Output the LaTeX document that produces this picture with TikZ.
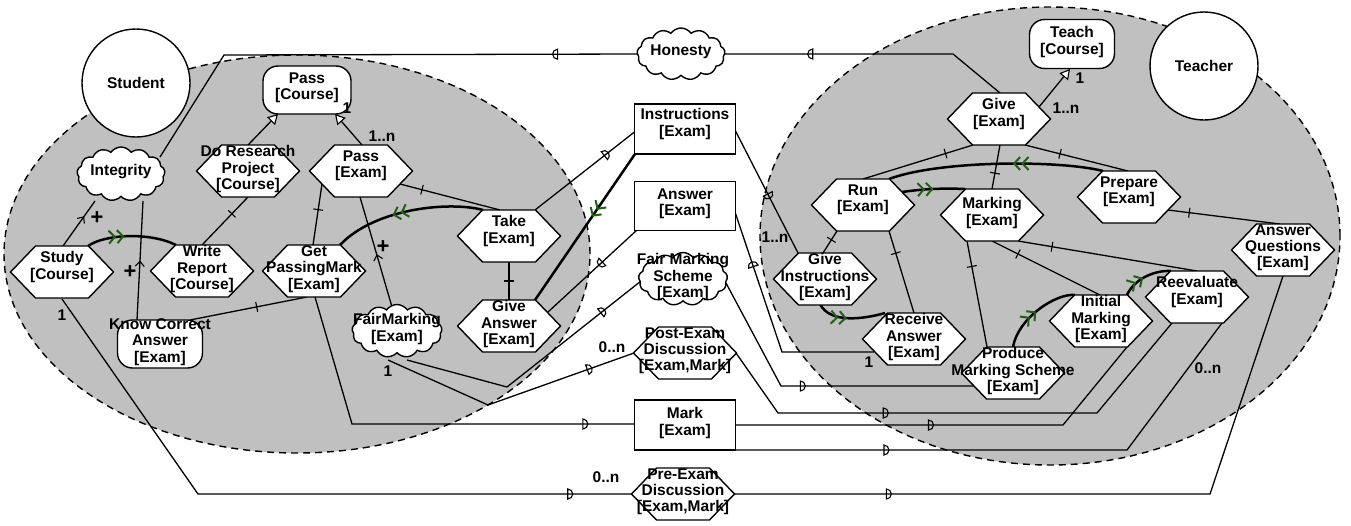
\documentclass[tikz,border=0pt]{standalone}
\usepackage{fontspec}
\setmainfont{Liberation Sans}
\usetikzlibrary{shapes.geometric,shapes.symbols,arrows.meta,decorations.markings}
\definecolor{bgray}{RGB}{192,192,192}
\definecolor{igreen}{RGB}{34,96,20}
\pgfdeclarelayer{bgl}
\pgfdeclarelayer{lnk}
\pgfsetlayers{bgl,lnk,main}
\newcommand\lblfont{\fontsize{15.5}{16.2}\selectfont\bfseries}
\newcommand\hexnode[4][]{%
  \node[hexbase] (#2) at (#3) {};
  \draw[nodeline] (#2.west) -- ([xshift=25pt]#2.north west) -- ([xshift=-25pt]#2.north east) -- (#2.east) -- ([xshift=-25pt]#2.south east) -- ([xshift=25pt]#2.south west) -- cycle;
  \node[lbl,#1] (#2t) at (#2.center) {#4};}
\tikzset{
 hexbase/.style={rectangle, minimum width=103pt, minimum height=52pt, inner sep=0pt, outer sep=0pt},
 nodeline/.style={draw, fill=white, line width=1.4pt, line join=miter},
 lbl/.style={align=center, inner sep=0pt, font=\lblfont, yshift=2pt},
 up/.style={yshift=3pt},
 goal/.style={rectangle, rounded corners=15pt, draw, fill=white, line width=1.4pt, minimum width=88pt, minimum height=48pt, inner sep=0pt},
 soft/.style={cloud, cloud puffs=13, cloud puff arc=110, cloud ignores aspect, draw, fill=white, line width=1.4pt, minimum width=88pt, minimum height=54pt, inner sep=0pt},
 res/.style={rectangle, draw, fill=white, line width=1.4pt, minimum width=101pt, minimum height=50pt, inner sep=0pt},
 actor/.style={circle, draw, fill=white, line width=1.4pt, minimum size=108pt, inner sep=0pt, font=\lblfont},
 bound/.style={ellipse, draw, fill=bgray, dash pattern=on 7pt off 5pt, line width=1.4pt, inner sep=0pt},
 link/.style={line width=1.3pt},
 thk/.style={line width=2.5pt},
 tickat/.style={postaction={decorate, decoration={markings, mark=at position #1 with {\draw[line width=1.1pt] (0pt,-5pt) -- (0pt,5pt);}}}},
 contribat/.style={postaction={decorate, decoration={markings, mark=at position #1 with {\arrow{Straight Barb[length=5pt,width=9pt,line width=1.1pt]}}}}},
 greenat/.style={postaction={decorate, decoration={markings, mark=at position #1 with {\arrow{Straight Barb[color=igreen,length=6pt,width=13pt,line width=2pt] Straight Barb[color=igreen,length=6pt,width=13pt,line width=2pt]}}}}},
 dmk/.style={sloped, allow upside down, semicircle, draw, line width=1.1pt, inner sep=0pt, outer sep=0pt, minimum width=10pt, minimum height=5pt, anchor=chord center},
 dfwd/.style={dmk, pos=#1, rotate=-90},
 dbwd/.style={dmk, pos=#1, rotate=90},
 card/.style={font=\lblfont, inner sep=0pt},
 plus/.style={font=\fontsize{22}{22}\selectfont\bfseries, inner sep=0pt},
 tri/.style={-{Triangle[fill=white,length=10pt,width=11pt,line width=1.1pt]}},
}
\begin{document}
\begin{tikzpicture}[x=1pt,y=-1pt]
\useasboundingbox (0,0) rectangle (1351,525);
\begin{pgfonlayer}{bgl}
\fill[white] (0,0) rectangle (1351,525);
\node[bound, minimum width=586pt, minimum height=398pt] (sbound) at (297,254) {};
\node[bound, minimum width=580pt, minimum height=458pt] (tbound) at (1050,236) {};
\end{pgfonlayer}

% actors
\node[actor] (stu) at (136,83) {Student};
\node[actor] (tea) at (1204,66) {Teacher};

% goals
\node[goal] (passc) at (307,90) {};
\node[lbl] (passct) at (passc.center) {Pass\\{}[Course]};
\node[goal, minimum width=85pt] (kca) at (160,344) {};
\node[lbl] (kcat) at (kca.center) {Know Correct\\Answer\\{}[Exam]};
\node[goal, minimum width=85pt, minimum height=49pt] (teach) at (1072,44) {};
\node[lbl] (teacht) at (teach.center) {Teach\\{}[Course]};

% softgoals
\node[soft] (integ) at (121,174) {};
\node[lbl] (integt) at (integ.center) {Integrity};
\node[soft, minimum width=90pt, minimum height=53pt] (fairm) at (397,331) {};
\node[lbl] (fairmt) at (fairm.center) {FairMarking\\{}[Exam]};
\node[soft, minimum height=52pt] (hon) at (681,54) {};
\node[lbl] (hont) at (hon.center) {Honesty};
\node[soft, minimum width=89pt, minimum height=53pt] (fms) at (683,279) {};
\node[lbl] (fmst) at (fms.center) {Fair Marking\\Scheme\\{}[Exam]};

% resources
\node[res] (instr) at (685,129) {};
\node[lbl, up] (instrt) at (instr.center) {Instructions\\{}[Exam]};
\node[res, minimum height=49pt] (ans) at (685,206) {};
\node[lbl] (anst) at (ans.center) {Answer\\{}[Exam]};
\node[res] (mark) at (685,425) {};
\node[lbl] (markt) at (mark.center) {Mark\\{}[Exam]};

% tasks
\hexnode[up]{passe}{361,171}{Pass\\{}[Exam]}
\hexnode{dorp}{248,171}{Do Research\\Project\\{}[Course]}
\hexnode[up]{study}{62,272}{Study\\{}[Course]}
\hexnode{writer}{202,271}{Write\\Report\\{}[Course]}
\hexnode{getpm}{314,271}{Get\\PassingMark\\{}[Exam]}
\hexnode[up]{take}{509,236}{Take\\{}[Exam]}
\hexnode{givea}{509,326}{Give\\Answer\\{}[Exam]}
\hexnode{post}{685,353}{Post-Exam\\Discussion\\{}[Exam,Mark]}
\hexnode{pre}{683,494}{Pre-Exam\\Discussion\\{}[Exam,Mark]}
\hexnode[up]{give}{999,119}{Give\\{}[Exam]}
\hexnode[up]{run}{863,205}{Run\\{}[Exam]}
\hexnode{marking}{992,215}{Marking\\{}[Exam]}
\hexnode[up]{prep}{1129,197}{Prepare\\{}[Exam]}
\hexnode{aq}{1283,250}{Answer\\Questions\\{}[Exam]}
\hexnode{gi}{825,279}{Give\\Instructions\\{}[Exam]}
\hexnode{ra}{914,339}{Receive\\Answer\\{}[Exam]}
\hexnode{pms}{1013,373}{Produce\\Marking Scheme\\{}[Exam]}
\hexnode{im}{1101,321}{Initial\\Marking\\{}[Exam]}
\hexnode[up]{reev}{1197,297}{Reevaluate\\{}[Exam]}

% bend points
\coordinate (b1) at (224,55);
\coordinate (b2) at (352,424);
\coordinate (b3) at (507,387);
\coordinate (b4) at (488,405);
\coordinate (b5) at (198,494);
\coordinate (b6) at (953,54);
\coordinate (b7) at (782,352);
\coordinate (b8) at (781,386);
\coordinate (b9) at (778,413);
\coordinate (b10) at (1097,413);
\coordinate (b11) at (1063,425);
\coordinate (b12) at (1127,450);
\coordinate (b13) at (1210,494);

\begin{pgfonlayer}{lnk}
% student internal
\draw[link,tri] ([shift={(0,-26)}]dorp.center) -- ([shift={(-29,24)}]passc.center);
\draw[link,tri] ([shift={(1,-26)}]passe.center) -- ([shift={(28,24)}]passc.center);
\draw[link,tickat=0.65] ([shift={(0,-26)}]writer.center) -- ([shift={(0,26)}]dorp.center);
\draw[link,tickat=0.58] ([shift={(-1,-26)}]getpm.center) -- ([shift={(-39,13)}]passe.center);
\draw[link,tickat=0.78] ([shift={(-9,-26)}]take.center) -- ([shift={(39,13)}]passe.center);
\draw[link,tickat=0.5] ([shift={(0,-26)}]givea.center) -- ([shift={(0,26)}]take.center);
\draw[link,tickat=0.57] ([shift={(30,-24)}]kca.center) -- ([shift={(-7,26)}]getpm.center);
\draw[link,contribat=0.66] ([shift={(1,-26)}]study.center) -- ([shift={(-26,27)}]integ.center);
\draw[link,contribat=0.5] ([shift={(-23,-24)}]kca.center) -- ([shift={(22,27)}]integ.center);
\draw[link,contribat=0.48] ([shift={(-5,-24)}]fairm.center) -- ([shift={(-1,26)}]passe.center);
\draw[thk,greenat=0.42] ([shift={(26,-26)}]study.center) .. controls ([shift={(43,-38)}]study.center) and ([shift={(-52,-39)}]writer.center) .. ([shift={(-26,-26)}]writer.center);
\draw[thk,greenat=0.6] ([shift={(-26,-26)}]take.center) .. controls ([shift={(-59,-35)}]take.center) and ([shift={(61,-63)}]getpm.center) .. ([shift={(26,-26)}]getpm.center);
\draw[thk,greenat=0.43] ([shift={(-50,25)}]instr.center) -- ([shift={(26,-26)}]givea.center);
% dependencies, student side
\draw[link] ([shift={(39,-17)}]integ.center) -- (b1) -- node[dbwd=0.8]{} ([shift={(-40,0)}]hon.center);
\draw[link] ([shift={(26,-26)}]take.center) -- node[dfwd=0.68]{} ([shift={(-48,1)}]instr.center);
\draw[link] ([shift={(39,-14)}]givea.center) -- node[dbwd=0.61]{} ([shift={(-48,24)}]ans.center);
\draw[link] ([shift={(1,26)}]getpm.center) -- (b2) -- node[dfwd=0.81]{} ([shift={(-48,-1)}]mark.center);
\draw[link] ([shift={(10,29)}]fairm.center) -- (b3) -- node[dfwd=0.7]{} ([shift={(-42,2)}]fms.center);
\draw[link] ([shift={(-9,29)}]fairm.center) -- (b4) -- node[dfwd=0.68]{} ([shift={(-51,0)}]post.center);
\draw[link] ([shift={(0,27)}]study.center) -- (b5) -- node[dfwd=0.85]{} ([shift={(-50,0)}]pre.center);
% dependencies, teacher side
\draw[link] ([shift={(42,0)}]hon.center) -- node[dbwd=0.39]{} (b6) -- ([shift={(1,-26)}]give.center);
\draw[link] ([shift={(50,1)}]instr.center) -- node[dfwd=0.52]{} ([shift={(-27,-26)}]gi.center);
\draw[link] ([shift={(50,6)}]ans.center) -- node[dbwd=0.39]{} (b7) -- ([shift={(-40,13)}]ra.center);
\draw[link] ([shift={(43,4)}]fms.center) -- (b8) -- node[dfwd=0.1]{} ([shift={(-39,13)}]pms.center);
\draw[link] ([shift={(51,0)}]post.center) -- (b9) -- node[dfwd=0.33]{} (b10) -- ([shift={(-25,26)}]reev.center);
\draw[link] ([shift={(50,0)}]mark.center) -- node[dfwd=0.59]{} (b11) -- ([shift={(26,26)}]im.center);
\draw[link] ([shift={(50,25)}]mark.center) -- node[dfwd=0.38]{} (b12) -- ([shift={(25,26)}]reev.center);
\draw[link] ([shift={(51,0)}]pre.center) -- node[dfwd=0.32]{} (b13) -- ([shift={(0,26)}]aq.center);
% teacher internal
\draw[link,tri] ([shift={(40,-12)}]give.center) -- ([shift={(-2,25)}]teach.center);
\draw[link,tickat=0.75] ([shift={(0,-26)}]run.center) -- ([shift={(-26,26)}]give.center);
\draw[link,tickat=0.36] ([shift={(0,-26)}]marking.center) -- ([shift={(1,26)}]give.center);
\draw[link,tickat=0.66] ([shift={(-1,-26)}]prep.center) -- ([shift={(26,26)}]give.center);
\draw[link,tickat=0.81] ([shift={(-3,-26)}]aq.center) -- ([shift={(39,13)}]prep.center);
\draw[link,tickat=0.6] ([shift={(-2,-26)}]gi.center) -- ([shift={(-26,26)}]run.center);
\draw[link,tickat=0.73] ([shift={(0,-26)}]ra.center) -- ([shift={(26,26)}]run.center);
\draw[link,tickat=0.76] ([shift={(-26,-26)}]pms.center) -- ([shift={(-25,26)}]marking.center);
\draw[link,tickat=0.76] ([shift={(-1,-26)}]im.center) -- ([shift={(0,26)}]marking.center);
\draw[link,tickat=0.81] ([shift={(0,-26)}]reev.center) -- ([shift={(26,26)}]marking.center);
\draw[thk,greenat=0.42] ([shift={(-26,-26)}]prep.center) .. controls ([shift={(-69,-37)}]prep.center) and ([shift={(77,-45)}]run.center) .. ([shift={(26,-26)}]run.center);
\draw[thk,greenat=0.5] ([shift={(39,-13)}]run.center) .. controls ([shift={(60,-16)}]run.center) and ([shift={(-50,-27)}]marking.center) .. ([shift={(-27,-26)}]marking.center);
\draw[thk,greenat=0.45] ([shift={(-5,25)}]gi.center) .. controls ([shift={(5,45)}]gi.center) and ([shift={(-50,-20)}]ra.center) .. ([shift={(-29,-26)}]ra.center);
\draw[thk,greenat=0.5] ([shift={(0,-26)}]pms.center) .. controls ([shift={(5,-55)}]pms.center) and ([shift={(-45,-28)}]im.center) .. ([shift={(-26,-26)}]im.center);
\draw[thk,greenat=0.45] ([shift={(26,-26)}]im.center) .. controls ([shift={(32,-40)}]im.center) and ([shift={(-45,-27)}]reev.center) .. ([shift={(-26,-26)}]reev.center);
\end{pgfonlayer}

% cardinalities and contributions
\node[card] (l1) at (347,108) {1};
\node[card] (l2) at (382,136) {1..n};
\node[card] (l3) at (62,315) {1};
\node[card] (l4) at (388,371) {1};
\node[card] (l5) at (612,347) {0..n};
\node[card] (l6) at (606,477) {0..n};
\node[card] (l7) at (775,237) {1..n};
\node[card] (l8) at (869,362) {1};
\node[card] (l9) at (1080,78) {1};
\node[card] (l10) at (1066,108) {1..n};
\node[card] (l11) at (1208,368) {0..n};
\node[plus] (p1) at (97,218) {+};
\node[plus] (p2) at (130,272) {+};
\node[plus] (p3) at (383,247) {+};
\end{tikzpicture}
\end{document}
